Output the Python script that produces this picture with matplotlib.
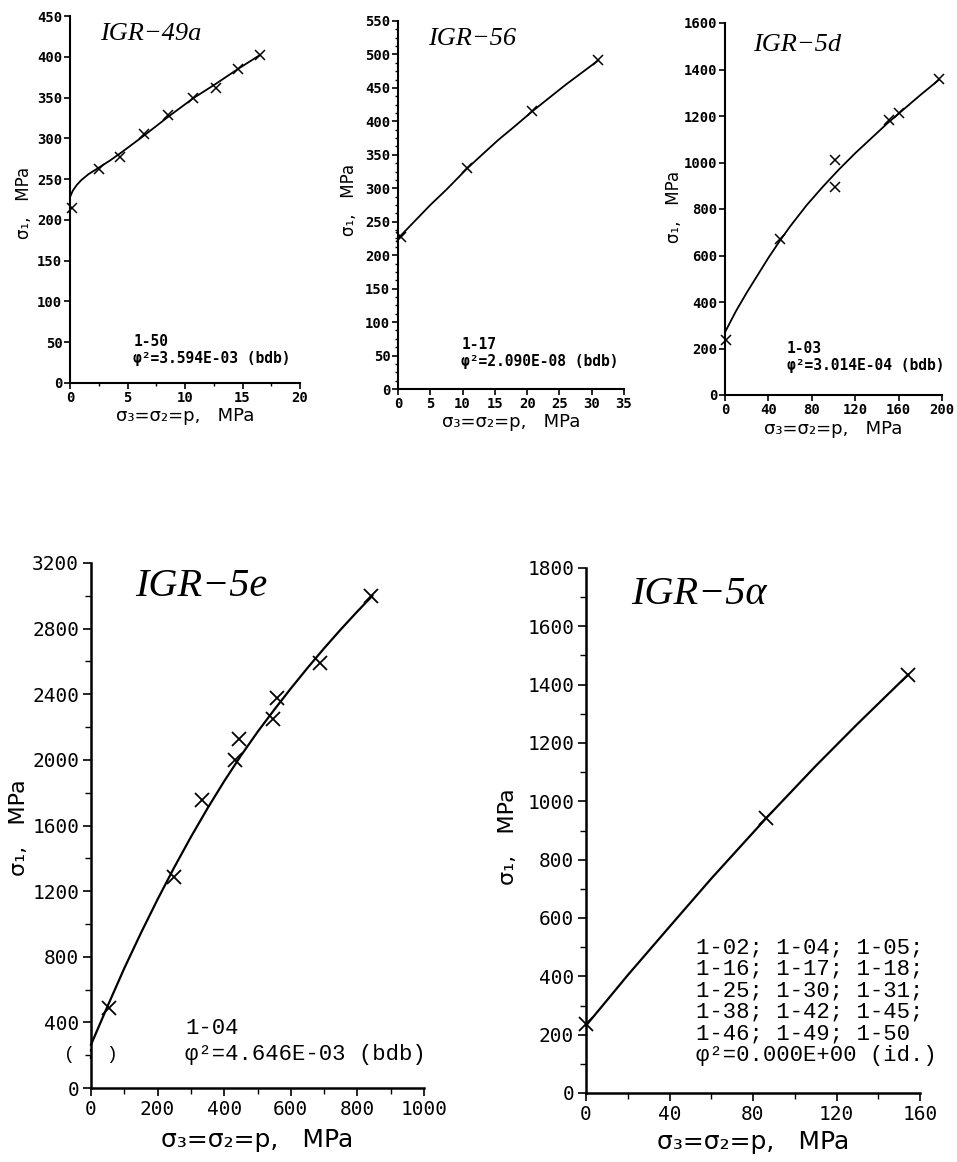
import matplotlib.pyplot as plt
from matplotlib.ticker import MultipleLocator

W, H = 957, 1162

# IGR-49a
p_49a = [0.15, 2.5, 4.35, 6.4, 8.55, 10.7, 12.7, 14.6, 16.5]
s_49a = [215, 263, 277, 305, 329, 350, 362, 385, 402]
fit_p_49a = [0, 0.25, 0.6, 1.0, 1.6, 2.5, 3.5, 4.5, 6.4, 8.5, 10.7, 12.7, 14.6, 16.5]
fit_s_49a = [228, 236, 243, 249, 256, 264, 273, 283, 303, 326, 349, 367, 385, 402]

# IGR-56
p_56 = [0.5, 10.75, 20.8, 30.9]
s_56 = [227, 330, 415, 491]
fit_p_56 = [0, 2.5, 5, 7.5, 10.75, 13, 15.5, 18, 20.8, 23, 26, 28.5, 31]
fit_s_56 = [225, 250, 275, 298, 330, 350, 372, 392, 415, 432, 455, 473, 491]

# IGR-5d
p_5d = [1, 50.8, 101.5, 101.5, 150.8, 160, 197]
s_5d = [235, 672, 1012, 895, 1184, 1212, 1361]
fit_p_5d = [0, 10, 20, 30, 40, 50.8, 60, 75, 90, 105, 120, 135, 150, 165, 180, 197]
fit_s_5d = [270, 360, 440, 515, 590, 665, 725, 815, 895, 970, 1040, 1105, 1170, 1230, 1290, 1355]

# IGR-5e
p_5e = [54, 249, 332, 432, 444, 547, 560, 687, 840]
s_5e = [485, 1284, 1757, 1997, 2129, 2249, 2377, 2588, 3001]
fit_p_5e = [0, 50, 100, 150, 200, 250, 300, 350, 400, 450, 500, 550, 600, 650, 700, 750, 800, 845]
fit_s_5e = [264, 500, 730, 945, 1150, 1345, 1530, 1705, 1870, 2025, 2170, 2305, 2435, 2560,
            2680, 2795, 2905, 3000]

# IGR-5alpha
p_5a = [0, 86.4, 154.4]
s_5a = [235, 942, 1433]
fit_p_5a = [0, 20, 40, 60, 86.4, 110, 130, 154.4]
fit_s_5a = [231, 404, 570, 735, 943, 1121, 1265, 1435]

samples_5a = ['1-02; 1-04; 1-05;', '1-16; 1-17; 1-18;', '1-25; 1-30; 1-31;',
              '1-38; 1-42; 1-45;', '1-46; 1-49; 1-50']

fig = plt.figure(figsize=(W / 100, H / 100), dpi=100)
fig.patch.set_facecolor('white')


def make_axes(left, right, y0, ytop):
    return fig.add_axes([left / W, 1 - y0 / H, (right - left) / W, (y0 - ytop) / H])


def style(ax, xlim, ylim, xstep, ystep, xminor, yminor, big):
    ax.set_xlim(*xlim)
    ax.set_ylim(*ylim)
    ax.xaxis.set_major_locator(MultipleLocator(xstep))
    ax.yaxis.set_major_locator(MultipleLocator(ystep))
    if xminor:
        ax.xaxis.set_minor_locator(MultipleLocator(xminor))
    if yminor:
        ax.yaxis.set_minor_locator(MultipleLocator(yminor))
    for s in ['top', 'right']:
        ax.spines[s].set_visible(False)
    for s in ['left', 'bottom']:
        ax.spines[s].set_linewidth(1.8 if big else 1.5)
    ax.set_facecolor('none')
    fs = 14 if big else 10
    ax.tick_params(which='major', direction='out', length=6 if big else 4, width=1.2,
                   labelsize=fs, pad=2.5 if big else 1.5)
    ax.tick_params(which='minor', direction='out', length=4 if big else 2.5, width=1)
    for lab in ax.get_xticklabels() + ax.get_yticklabels():
        lab.set_family('DejaVu Sans Mono')
        lab.set_fontweight('normal' if big else 'bold')


def draw(ax, p, s, fp, fs_, big):
    ax.plot(fp, fs_, color='black', lw=1.6 if big else 1.3, clip_on=False)
    ax.plot(p, s, 'x', color='black', ms=10 if big else 6.5, mew=1.3 if big else 1.1,
            clip_on=False)


def labels(ax, left, right, y0, ytop, ylab_px, xlab_py, big):
    w, h = right - left, y0 - ytop
    ax.set_ylabel('σ₁,   MPa', fontsize=16 if big else 12, family='DejaVu Sans')
    ax.yaxis.set_label_coords((ylab_px[0] - left) / w, (y0 - ylab_px[1]) / h)
    ax.set_xlabel('σ₃=σ₂=p,   MPa', fontsize=18 if big else 13, family='DejaVu Sans')
    ax.xaxis.set_label_coords(0.5, (y0 - xlab_py) / h)
    ax.xaxis.label.set_va('center')
    ax.yaxis.label.set_va('center')


def title(ax, txt, x, y, size):
    ax.text(x, y, txt, transform=ax.transAxes, fontsize=size, family='Liberation Serif',
            style='italic', ha='left', va='center')


def note_small(ax, code, phi, x, y1, y2):
    ax.text(x, y1, code, transform=ax.transAxes, fontsize=10.5, family='DejaVu Sans Mono',
            weight='bold', va='center', ha='left')
    ax.text(x, y2, phi, transform=ax.transAxes, fontsize=10.5, family='DejaVu Sans Mono',
            weight='bold', va='center', ha='left', clip_on=False)


# ---- top row ----
ax1 = make_axes(70, 300, 383, 16)
draw(ax1, p_49a, s_49a, fit_p_49a, fit_s_49a, False)
style(ax1, (0, 20), (0, 450), 5, 50, 2.5, None, False)
labels(ax1, 70, 300, 383, 16, (24, 203), 416, False)
title(ax1, 'IGR−49a', 0.13, 0.952, 19)
note_small(ax1, '1-50', 'φ²=3.594E-03 (bdb)', 0.275, 0.114, 0.066)

ax2 = make_axes(398, 624, 389, 21)
draw(ax2, p_56, s_56, fit_p_56, fit_s_56, False)
style(ax2, (0, 35), (0, 550), 5, 50, None, 12.5, False)
labels(ax2, 398, 624, 389, 21, (349, 200), 422, False)
title(ax2, 'IGR−56', 0.133, 0.95, 19)
note_small(ax2, '1-17', 'φ²=2.090E-08 (bdb)', 0.28, 0.12, 0.075)

ax3 = make_axes(725, 942, 395, 23)
draw(ax3, p_5d, s_5d, fit_p_5d, fit_s_5d, False)
style(ax3, (0, 200), (0, 1600), 40, 200, None, None, False)
labels(ax3, 725, 942, 395, 23, (674, 207), 429, False)
title(ax3, 'IGR−5d', 0.13, 0.94, 19)
note_small(ax3, '1-03', 'φ²=3.014E-04 (bdb)', 0.285, 0.125, 0.08)

# ---- bottom row ----
ax4 = make_axes(91, 424, 1088, 563)
draw(ax4, p_5e, s_5e, fit_p_5e, fit_s_5e, True)
style(ax4, (0, 1000), (0, 3200), 200, 400, 100, 200, True)
labels(ax4, 91, 424, 1088, 563, (19, 828), 1140, True)
title(ax4, 'IGR−5e', 0.132, 0.956, 29)
ax4.text(0, 204, '( : )', fontsize=13, family='Liberation Mono', ha='center', va='center')
ax4.text(0.282, 0.113, '1-04', transform=ax4.transAxes, fontsize=16,
         family='Liberation Mono', va='center')
ax4.text(0.282, 0.064, 'φ²=4.646E-03 (bdb)', transform=ax4.transAxes, fontsize=16,
         family='Liberation Mono', va='center')

ax5 = make_axes(586, 920, 1093, 568)
draw(ax5, p_5a, s_5a, fit_p_5a, fit_s_5a, True)
style(ax5, (0, 160), (0, 1800), 40, 200, 20, 100, True)
labels(ax5, 586, 920, 1093, 568, (508, 837), 1142, True)
title(ax5, 'IGR−5α', 0.135, 0.949, 29)
for i, line in enumerate(samples_5a + ['φ²=0.000E+00 (id.)']):
    ax5.text(0.33, 0.277 - 0.0412 * i, line, transform=ax5.transAxes,
             fontsize=16, family='Liberation Mono', va='center')

fig.savefig('out.png', dpi=100, facecolor='white')
